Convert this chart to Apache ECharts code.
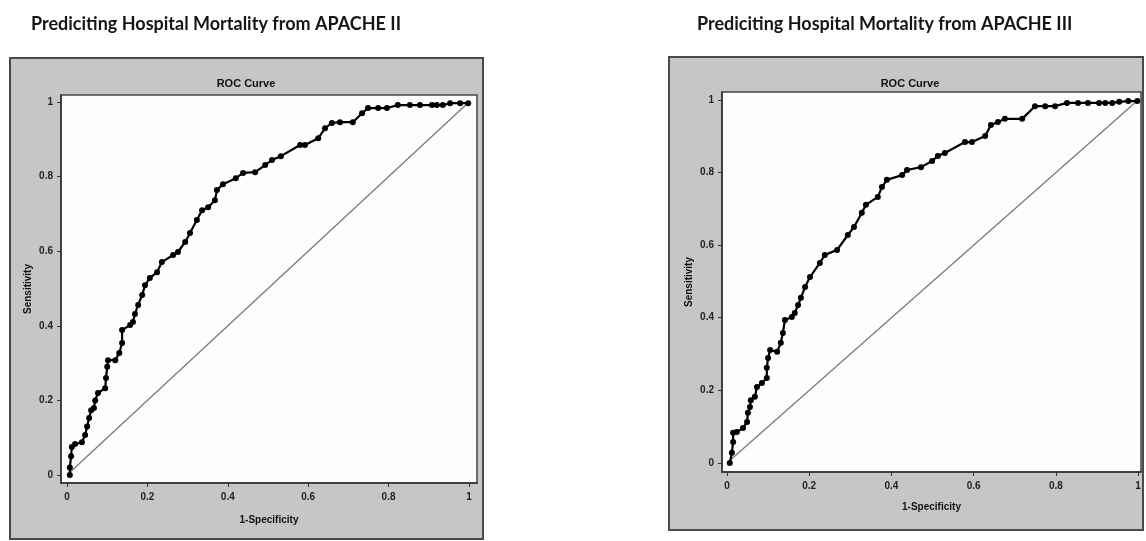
<!DOCTYPE html>
<html>
<head>
<meta charset="utf-8">
<script src="https://cdn.jsdelivr.net/npm/echarts@6/dist/echarts.min.js"></script>
<style>
  html, body { margin: 0; padding: 0; background: #fff; }
  #chart { width: 1146px; height: 541px; }
</style>
</head>
<body>
<div id="chart"></div>
<script>
// ROC points (1-specificity, sensitivity)
const apache2X = [0.007, 0.007, 0.01, 0.012, 0.02, 0.037, 0.045, 0.05, 0.055, 0.06, 0.067, 0.07, 0.077, 0.095, 0.097, 0.1, 0.102, 0.12, 0.13, 0.137, 0.137, 0.157, 0.164, 0.169, 0.177, 0.187, 0.194, 0.206, 0.224, 0.236, 0.264, 0.276, 0.294, 0.306, 0.323, 0.336, 0.351, 0.368, 0.373, 0.388, 0.42, 0.438, 0.468, 0.493, 0.51, 0.532, 0.58, 0.592, 0.625, 0.642, 0.659, 0.679, 0.711, 0.734, 0.749, 0.774, 0.796, 0.823, 0.853, 0.878, 0.908, 0.92, 0.935, 0.953, 0.978, 0.998];
const apache2Y = [0.0, 0.02, 0.05, 0.075, 0.083, 0.088, 0.107, 0.13, 0.153, 0.174, 0.18, 0.2, 0.22, 0.233, 0.26, 0.29, 0.308, 0.308, 0.327, 0.354, 0.389, 0.402, 0.41, 0.432, 0.456, 0.483, 0.509, 0.528, 0.544, 0.571, 0.59, 0.598, 0.625, 0.649, 0.684, 0.71, 0.718, 0.737, 0.764, 0.78, 0.796, 0.81, 0.812, 0.831, 0.845, 0.855, 0.885, 0.885, 0.903, 0.93, 0.944, 0.946, 0.946, 0.97, 0.984, 0.984, 0.984, 0.992, 0.992, 0.992, 0.992, 0.992, 0.992, 0.997, 0.997, 0.997];

const apache3X = [0.007, 0.012, 0.015, 0.015, 0.024, 0.039, 0.049, 0.051, 0.056, 0.058, 0.068, 0.073, 0.085, 0.097, 0.097, 0.1, 0.105, 0.122, 0.131, 0.136, 0.141, 0.158, 0.165, 0.173, 0.18, 0.19, 0.202, 0.226, 0.238, 0.268, 0.294, 0.309, 0.328, 0.338, 0.367, 0.377, 0.389, 0.426, 0.438, 0.472, 0.499, 0.513, 0.53, 0.579, 0.596, 0.628, 0.642, 0.659, 0.676, 0.718, 0.749, 0.774, 0.798, 0.827, 0.854, 0.878, 0.905, 0.92, 0.937, 0.954, 0.976, 0.998];
const apache3Y = [0.0, 0.028, 0.058, 0.083, 0.085, 0.096, 0.113, 0.138, 0.154, 0.173, 0.182, 0.209, 0.22, 0.234, 0.262, 0.289, 0.311, 0.306, 0.331, 0.358, 0.394, 0.402, 0.413, 0.435, 0.455, 0.485, 0.512, 0.551, 0.573, 0.587, 0.628, 0.65, 0.689, 0.711, 0.733, 0.76, 0.78, 0.793, 0.807, 0.815, 0.832, 0.846, 0.854, 0.884, 0.884, 0.901, 0.931, 0.939, 0.948, 0.948, 0.983, 0.983, 0.983, 0.992, 0.992, 0.992, 0.992, 0.992, 0.992, 0.995, 0.997, 0.997];

const diagX = [0, 1];
const diagY = [0, 1];

const tickValues = [0, 0.2, 0.4, 0.6, 0.8, 1];
const tickLabels = ['0', '0.2', '0.4', '0.6', '0.8', '1'];

const pairs = (xs, ys) => xs.map((x, i) => [x, ys[i]]);

const chart = echarts.init(document.getElementById('chart'));

const axisFont = { fontFamily: 'Liberation Sans Narrow, Arial, sans-serif', fontSize: 10, color: '#222', fontWeight: 'bold' };
const nameFont = { fontFamily: 'Arial, sans-serif', fontSize: 10, fontWeight: 'bold', color: '#111' };

function makeX(gridIndex, min, max, nameGap) {
  return {
    type: 'value', gridIndex: gridIndex, min: min, max: max,
    name: '1-Specificity', nameLocation: 'middle', nameGap: nameGap,
    nameTextStyle: nameFont,
    splitLine: { show: false },
    axisLine: { show: true, onZero: false, lineStyle: { color: '#333', width: 1.5 } },
    axisTick: { show: true, customValues: tickValues, length: 4, lineStyle: { color: '#333' } },
    axisLabel: Object.assign({
      customValues: tickValues, margin: 9,
      formatter: v => tickLabels[tickValues.indexOf(Math.round(v * 10) / 10)]
    }, axisFont)
  };
}

function makeY(gridIndex, min, max, nameGap) {
  return {
    type: 'value', gridIndex: gridIndex, min: min, max: max,
    name: 'Sensitivity', nameLocation: 'middle', nameGap: nameGap,
    nameTextStyle: nameFont,
    splitLine: { show: false },
    axisLine: { show: true, onZero: false, lineStyle: { color: '#333', width: 1.5 } },
    axisTick: { show: true, customValues: tickValues, length: 4, lineStyle: { color: '#333' } },
    axisLabel: Object.assign({
      customValues: tickValues, margin: 8,
      formatter: v => tickLabels[tickValues.indexOf(Math.round(v * 10) / 10)]
    }, axisFont)
  };
}

function rocSeries(idx, data) {
  return {
    type: 'line', xAxisIndex: idx, yAxisIndex: idx, data: data,
    symbol: 'circle', symbolSize: 6, showSymbol: true,
    lineStyle: { color: '#000', width: 2.2 },
    itemStyle: { color: '#000' },
    z: 5, animation: false
  };
}

function diagSeries(idx) {
  return {
    type: 'line', xAxisIndex: idx, yAxisIndex: idx, data: pairs(diagX, diagY),
    symbol: 'none', lineStyle: { color: '#7a7a7a', width: 1.3 }, z: 4, animation: false
  };
}

const bigTitle = { fontFamily: 'Lato, sans-serif', fontSize: 18, fontWeight: 'bold', color: '#15151c' };
const rocTitle = { fontFamily: 'Arial, sans-serif', fontSize: 11, fontWeight: 'bold', color: '#111' };

chart.setOption({
  backgroundColor: '#fff',
  animation: false,
  title: [
    { text: 'Prediciting Hospital Mortality from APACHE II', left: 26, top: 10, textStyle: bigTitle },
    { text: 'Prediciting Hospital Mortality from APACHE III', left: 692, top: 10, textStyle: bigTitle },
    { text: 'ROC Curve', left: 241, top: 73, textAlign: 'center', textStyle: rocTitle },
    { text: 'ROC Curve', left: 905, top: 73, textAlign: 'center', textStyle: rocTitle }
  ],
  graphic: [
    { type: 'rect', z: -10, shape: { x: 10, y: 58, width: 473, height: 481 },
      style: { fill: '#c6c6c6', stroke: '#4a4a4a', lineWidth: 2 } },
    { type: 'rect', z: -10, shape: { x: 669, y: 57, width: 474, height: 473 },
      style: { fill: '#c6c6c6', stroke: '#4a4a4a', lineWidth: 2 } }
  ],
  grid: [
    { left: 61, top: 95, width: 416, height: 388, show: true, backgroundColor: '#fdfdfd', borderColor: '#444', borderWidth: 1.5 },
    { left: 722, top: 92, width: 419, height: 380, show: true, backgroundColor: '#fdfdfd', borderColor: '#444', borderWidth: 1.5 }
  ],
  xAxis: [makeX(0, -0.015, 1.02, 32), makeX(1, -0.012, 1.007, 30)],
  yAxis: [makeY(0, -0.0214, 1.019, 28), makeY(1, -0.025, 1.022, 28)],
  series: [
    diagSeries(0),
    rocSeries(0, pairs(apache2X, apache2Y)),
    diagSeries(1),
    rocSeries(1, pairs(apache3X, apache3Y))
  ]
});
</script>
</body>
</html>
